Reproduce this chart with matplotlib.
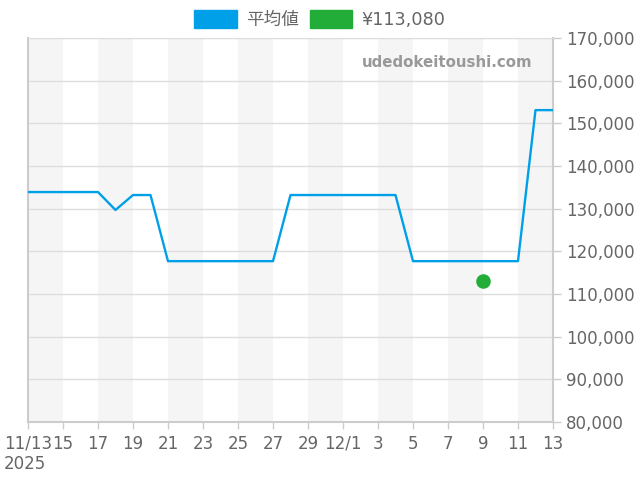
import numpy as np
import pandas as pd
import matplotlib
matplotlib.use("Agg")
import matplotlib.pyplot as plt
from matplotlib.patches import Patch

plt.rcParams['font.family'] = ['DejaVu Sans', 'Noto Sans CJK JP']

# daily average price
dates = pd.date_range("2025-11-13", "2025-12-13", freq="D")
avg_price = [133900, 133900, 133900, 133900, 133900, 129700, 133200, 133200,
             117700, 117700, 117700, 117700, 117700, 117700, 117700,
             133200, 133200, 133200, 133200, 133200, 133200, 133200,
             117700, 117700, 117700, 117700, 117700, 117700, 117700,
             153100, 153100]

# the single listed price
point_date = pd.Timestamp("2025-12-09")
point_price = 113080
point_label = "¥113,080"
line_label = "平均値"

blue = "#00a0e9"
green = "#22ac38"
gray_txt = "#666666"

x = (dates - dates[0]).days.values
px = (point_date - dates[0]).days

fig = plt.figure(figsize=(6.4, 4.8), dpi=100)
ax = fig.add_axes([0.04375, 0.1208, 0.8203, 0.8])

# alternating shaded bands, 2 days each
for s in range(0, len(dates) - 1, 4):
    ax.axvspan(s, s + 2, color="#f5f5f5", lw=0, zorder=0)

ax.plot(x, avg_price, color=blue, lw=1.7, zorder=3)
ax.scatter([px], [point_price], s=110, color=green, zorder=4, lw=0)

ax.set_xlim(0, len(dates) - 1)
ax.set_ylim(80000, 170000)
ax.set_yticks(np.arange(80000, 170001, 10000))
ax.yaxis.tick_right()
ax.set_yticklabels([f"{v:,}" for v in range(80000, 170001, 10000)])
ax.grid(axis="y", color="#dddddd", lw=1)
ax.set_axisbelow(True)

ticks = list(range(0, len(dates), 2))
labels = []
for t in ticks:
    d = dates[t]
    if t == 0:
        labels.append(f"{d.month}/{d.day}\n{d.year}")
    elif d.day == 1:
        labels.append(f"{d.month}/{d.day}")
    else:
        labels.append(str(d.day))
ax.set_xticks(ticks)
ax.set_xticklabels(labels)
for lab in ax.get_xticklabels():
    lab.set_multialignment("left")

ax.tick_params(axis="both", colors="#cccccc", labelcolor=gray_txt,
               labelsize=12, length=6, width=1)
ax.tick_params(axis="x", length=5, pad=4)
for side in ["left", "bottom", "right"]:
    ax.spines[side].set_color("#cccccc")
    ax.spines[side].set_linewidth(1.5)
ax.spines["top"].set_color("#dddddd")

ax.text(0.961, 0.935, "udedokeitoushi.com", transform=ax.transAxes,
        ha="right", va="center", fontsize=10.8, fontweight="bold",
        color="#999999", zorder=5)

handles = [Patch(color=blue, label=line_label), Patch(color=green, label=point_label)]
fig.legend(handles=handles, loc="upper center", bbox_to_anchor=(0.5, 1.012),
           ncol=2, frameon=False, fontsize=12.7, handlelength=2.4,
           handleheight=1.15, handletextpad=0.55, columnspacing=0.6,
           labelcolor=gray_txt)

fig.savefig("out.png", dpi=100)
